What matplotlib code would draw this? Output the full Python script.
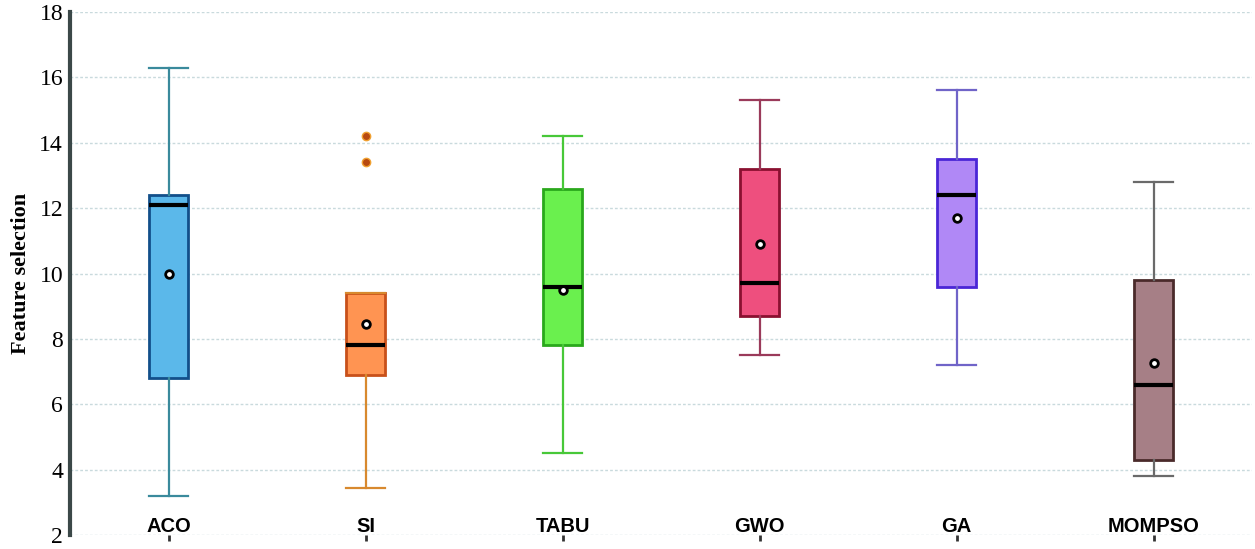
import matplotlib
matplotlib.use("Agg")
import matplotlib.pyplot as plt

categories = ["ACO", "SI", "TABU", "GWO", "GA", "MOMPSO"]
whislo = [3.2, 3.45, 4.5, 7.5, 7.2, 3.8]
q1 = [6.8, 6.9, 7.8, 8.7, 9.6, 4.3]
medians = [12.1, 7.8, 9.6, 9.7, 12.4, 6.6]
q3 = [12.4, 9.4, 12.6, 13.2, 13.5, 9.8]
whishi = [16.3, 9.4, 14.2, 15.3, 15.6, 12.8]
means = [10.0, 8.45, 9.5, 10.9, 11.7, 7.25]
outliers = [[], [13.4, 14.2], [], [], [], []]

face_colors = ["#5bb8ea", "#ff9452", "#6af04e", "#ee4f7e", "#b088f6", "#a67f86"]
edge_colors = ["#124f8a", "#c8501a", "#2aa81c", "#8a1030", "#4a26d6", "#4a2a2a"]
whisker_colors = ["#3a8a9c", "#d8892e", "#48c838", "#9a3a5a", "#7064c8", "#6a6a6a"]

fig = plt.figure(figsize=(12.55, 5.49), dpi=100)
ax = fig.add_axes([70 / 1255, 14 / 549, (1252 - 70) / 1255, (535 - 12) / 549])

positions = list(range(len(categories)))
for i in positions:
    stats = [dict(med=medians[i], q1=q1[i], q3=q3[i], whislo=whislo[i],
                  whishi=whishi[i], mean=means[i], fliers=outliers[i])]
    ax.bxp(stats, positions=[i], widths=0.2, patch_artist=True,
           showmeans=True, showcaps=True, showfliers=True,
           boxprops=dict(facecolor=face_colors[i], edgecolor=edge_colors[i], linewidth=2),
           whiskerprops=dict(color=whisker_colors[i], linewidth=1.6),
           capprops=dict(color=whisker_colors[i], linewidth=1.6),
           capwidths=0.2,
           medianprops=dict(color="black", linewidth=3),
           meanprops=dict(marker="o", markerfacecolor="white", markeredgecolor="black",
                          markersize=5.5, markeredgewidth=2),
           flierprops=dict(marker="o", markerfacecolor="#b84a10", markeredgecolor="#f0a030",
                           markersize=6, markeredgewidth=1),
           zorder=3)

ax.set_xlim(-0.5, 5.5)
ax.set_ylim(2, 18)
ax.set_yticks(range(2, 19, 2))
ax.set_yticklabels([str(v) for v in range(2, 19, 2)], fontfamily="Liberation Serif",
                   fontsize=17)
ax.tick_params(axis="y", length=0, pad=5)
ax.set_xticks(positions)
ax.set_xticklabels([])
ax.tick_params(axis="x", direction="out", length=4, width=2, color="#333333")

for i, c in enumerate(categories):
    ax.text(i, 2.25, c, ha="center", va="center", fontfamily="Liberation Sans",
            fontweight="bold", fontsize=14.5, color="black", zorder=4)

ax.set_ylabel("Feature selection", fontfamily="Liberation Serif", fontweight="bold",
              fontsize=16, labelpad=6)

ax.grid(axis="y", color="#c9dadd", linestyle=(0, (2, 1.5)), linewidth=1)
ax.set_axisbelow(True)
for s in ["top", "right", "bottom"]:
    ax.spines[s].set_visible(False)
ax.spines["left"].set_color("#3b4848")
ax.spines["left"].set_linewidth(3)

fig.savefig("out.png", dpi=100)
